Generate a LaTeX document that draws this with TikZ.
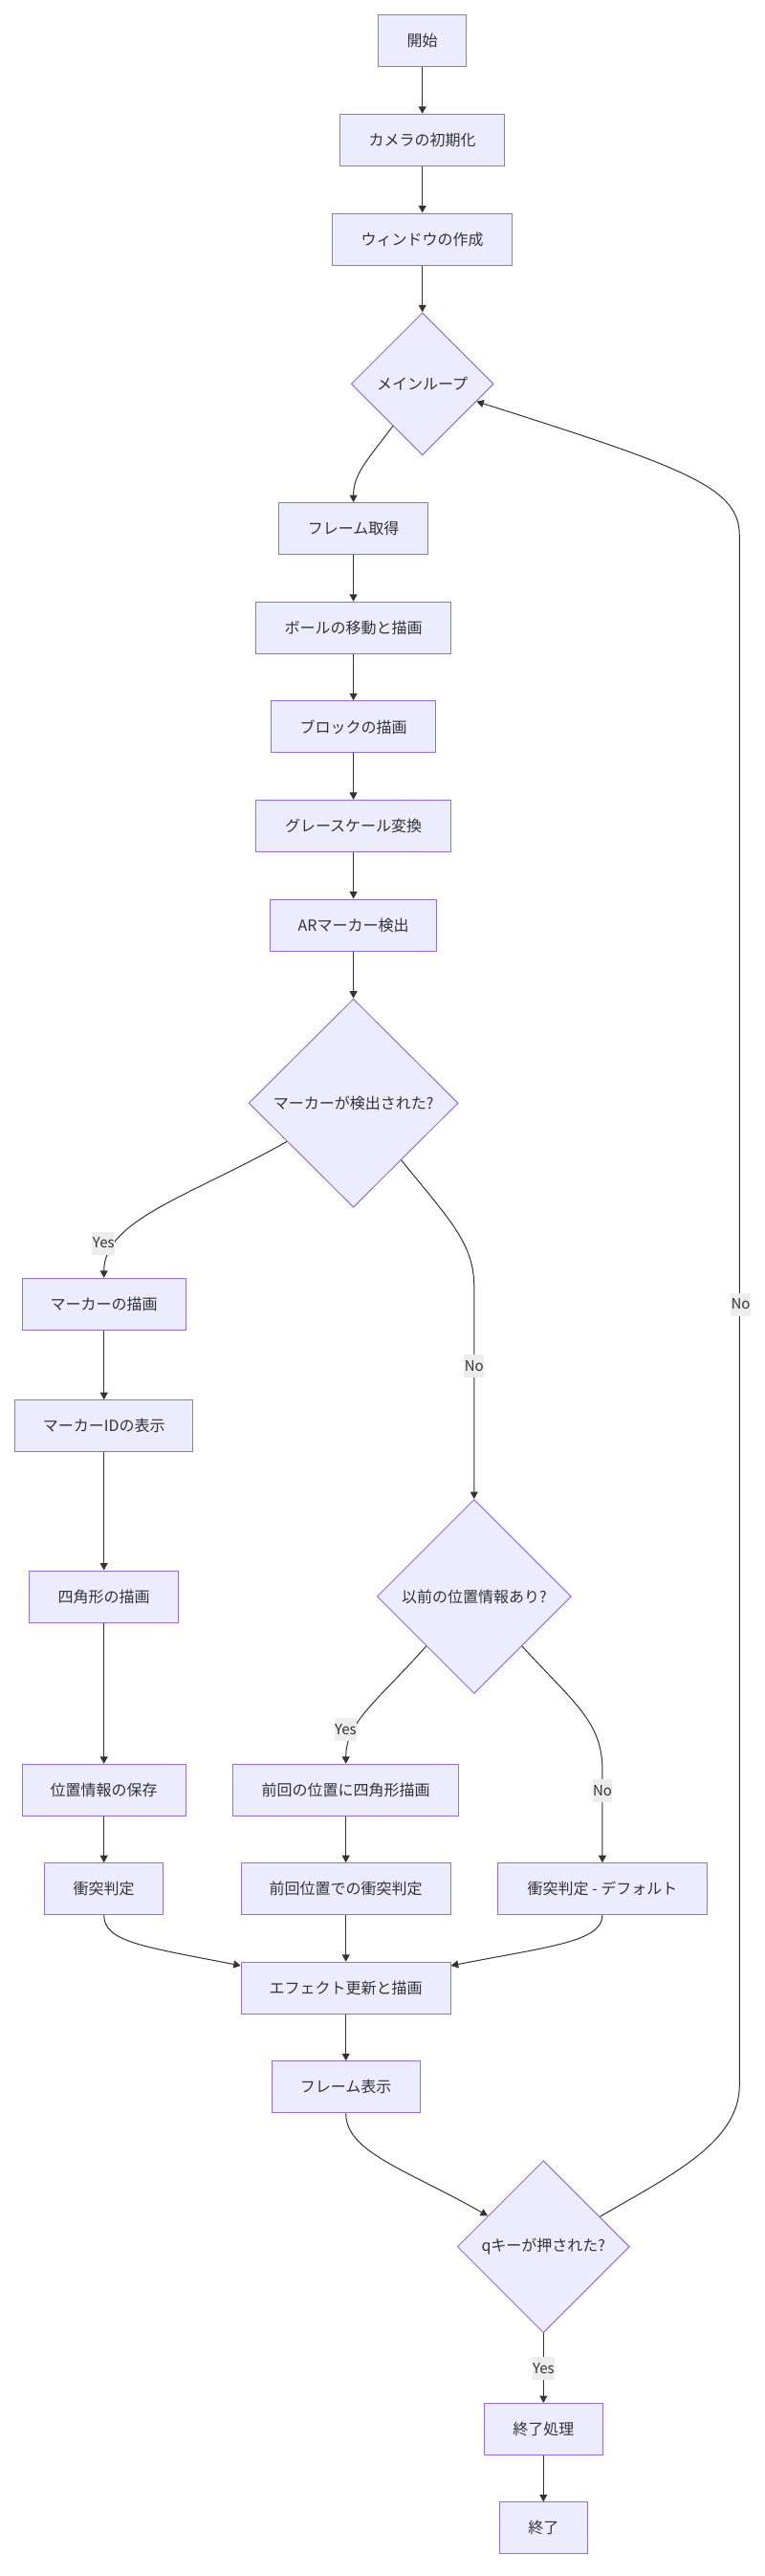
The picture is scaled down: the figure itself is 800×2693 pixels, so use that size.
\documentclass[tikz,border=0pt]{standalone}
\usepackage{fontspec}
\setmainfont{Noto Sans CJK JP}
\usetikzlibrary{shapes.geometric,arrows.meta}
\definecolor{nodefill}{HTML}{ECECFF}
\definecolor{nodeline}{HTML}{9370DB}
\definecolor{edgecol}{HTML}{333333}
\definecolor{lblfill}{HTML}{EDEDED}
\definecolor{txt}{HTML}{333333}
\begin{document}
\begin{tikzpicture}[x=1pt,y=-1pt,
  box/.style={draw=nodeline, fill=nodefill, line width=1pt, minimum height=54pt, inner sep=0pt, text=txt, font=\fontsize{16}{20}\selectfont},
  dia/.style={draw=nodeline, fill=nodefill, line width=1pt, diamond, aspect=1, inner sep=0pt, text=txt, font=\fontsize{16}{20}\selectfont},
  edge/.style={draw=edgecol, line width=1pt, -{Triangle[length=7.5pt,width=8pt]}},
  lbl/.style={fill=lblfill, text=txt, inner xsep=0.5pt, inner ysep=0pt, minimum height=24pt, font=\fontsize{15}{18}\selectfont}]
\fill[white] (0,0) rectangle (800,2693);
\useasboundingbox (0,0) rectangle (800,2693);

% nodes
\node[box, minimum width=92pt] (start) at (441.7,42.7) {開始};
\node[box, minimum width=172pt] (cam) at (441.7,146.3) {カメラの初期化};
\node[box, minimum width=188pt] (win) at (441.7,250) {ウィンドウの作成};
\node[dia, minimum width=149pt, minimum height=149pt] (loop) at (441.7,401.3) {メインループ};
\node[box, minimum width=156pt] (frame) at (369.6,552.5) {フレーム取得};
\node[box, minimum width=204pt] (ball) at (369.6,656.3) {ボールの移動と描画};
\node[box, minimum width=172pt] (block) at (369.6,759.8) {ブロックの描画};
\node[box, minimum width=204pt] (gray) at (369.6,863.4) {グレースケール変換};
\node[box, minimum width=174pt] (ar) at (369.6,967) {ARマーカー検出};
\node[dia, minimum width=219pt, minimum height=218pt] (det) at (369.6,1153.2) {マーカーが検出された?};
\node[box, minimum width=171pt] (mdraw) at (108.7,1363.3) {マーカーの描画};
\node[box, minimum width=186pt] (mid) at (108.7,1490.7) {マーカーIDの表示};
\node[box, minimum width=156pt] (sq) at (108.7,1669) {四角形の描画};
\node[dia, minimum width=203pt, minimum height=203pt] (prev) at (495.8,1669) {以前の位置情報あり?};
\node[box, minimum width=171pt] (pos) at (108.7,1871.3) {位置情報の保存};
\node[box, minimum width=236pt] (prevsq) at (361.7,1871.3) {前回の位置に四角形描画};
\node[box, minimum width=124pt] (col1) at (108.7,1974.7) {衝突判定};
\node[box, minimum width=219pt] (prevcol) at (361.7,1974.7) {前回位置での衝突判定};
\node[box, minimum width=219pt] (coldef) at (629.9,1974.7) {衝突判定 - デフォルト};
\node[box, minimum width=219pt] (effect) at (361.7,2078.3) {エフェクト更新と描画};
\node[box, minimum width=155pt] (show) at (361.7,2181.8) {フレーム表示};
\node[dia, minimum width=180pt, minimum height=180pt] (q) at (568.3,2348.7) {qキーが押された?};
\node[box, minimum width=124pt] (endp) at (568.3,2539.5) {終了処理};
\node[box, minimum width=92pt] (fin) at (568.3,2642.8) {終了};

% edges
\draw[edge] (start) -- (cam);
\draw[edge] (cam) -- (win);
\draw[edge] (win) -- (loop);
\draw[edge] (loop.235) .. controls (385,480) and (369.6,495) .. (frame.north);
\draw[edge] (frame) -- (ball);
\draw[edge] (ball) -- (block);
\draw[edge] (block) -- (gray);
\draw[edge] (gray) -- (ar);
\draw[edge] (ar) -- (det);
\draw[edge] (det.210) .. controls (200,1250) and (108.7,1275) .. (mdraw.north);
\draw[edge] (det.310) .. controls (470,1275) and (495.8,1300) .. (495.8,1345) -- (prev.north);
\draw[edge] (mdraw) -- (mid);
\draw[edge] (mid) -- (sq);
\draw[edge] (sq) -- (pos);
\draw[edge] (pos) -- (col1);
\draw[edge] (prev.226) .. controls (395,1778) and (361.7,1800) .. (prevsq.north);
\draw[edge] (prev.314) .. controls (600,1780) and (629.9,1800) .. (629.9,1850) -- (coldef.north);
\draw[edge] (prevsq) -- (prevcol);
\draw[edge] (col1.south) .. controls (108.7,2030) and (150,2035) .. (effect.168);
\draw[edge] (prevcol) -- (effect);
\draw[edge] (coldef.south) .. controls (629.9,2030) and (573.4,2035) .. (effect.12);
\draw[edge] (effect) -- (show);
\draw[edge] (show.south) .. controls (361.7,2250) and (425,2268) .. (q.151);
\draw[edge] (q) -- (endp);
\draw[edge] (endp) -- (fin);
\draw[edge] (q.28) .. controls (700,2275) and (773.3,2240) .. (773.3,2180) -- (773.3,560) .. controls (773.3,510) and (720,490) .. (loop.342);

% edge labels
\node[lbl] (lyes1) at (108.3,1299.5) {Yes};
\node[lbl] (lno1) at (495.8,1427.6) {No};
\node[lbl] (lyes2) at (361.3,1807.7) {Yes};
\node[lbl] (lno2) at (630,1871.7) {No};
\node[lbl] (lno3) at (774.6,1363.5) {No};
\node[lbl] (lyes3) at (568.3,2475.7) {Yes};
\end{tikzpicture}
\end{document}
